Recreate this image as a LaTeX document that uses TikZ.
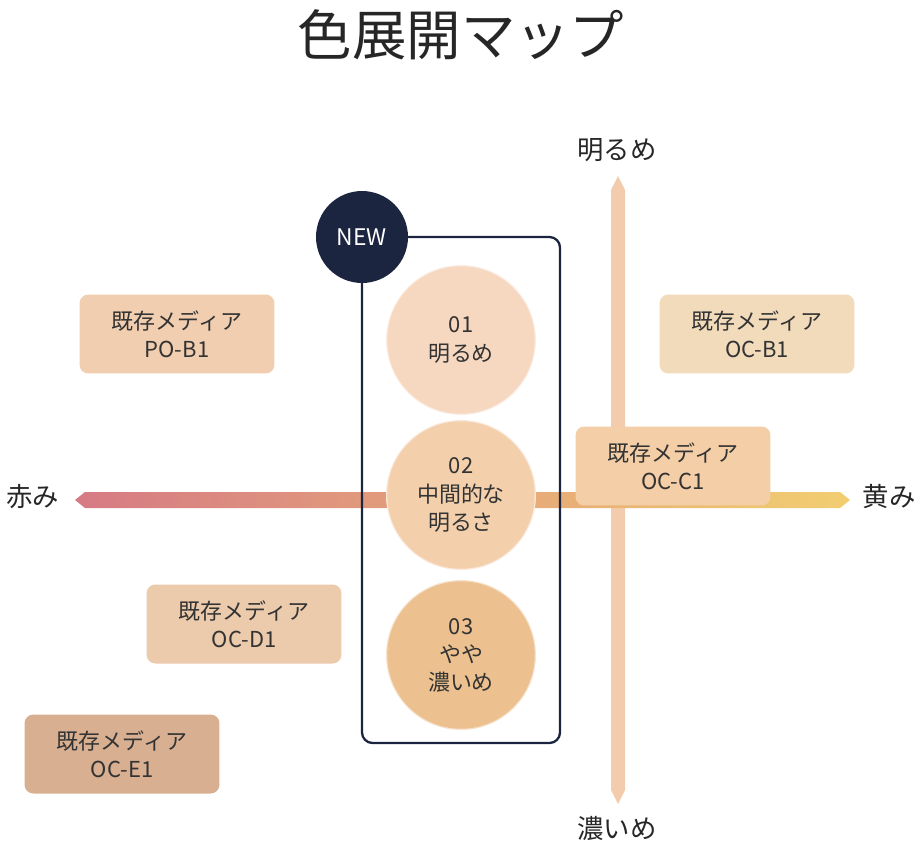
\documentclass[tikz,border=0pt]{standalone}
\usepackage{fontspec}
\setmainfont{Noto Sans CJK JP}
\usetikzlibrary{positioning}
\definecolor{mapnavy}{RGB}{28,37,64}
\definecolor{mapaxis}{RGB}{242,204,172}
\definecolor{mapred}{RGB}{214,122,132}
\definecolor{mappale}{RGB}{246,228,226}
\definecolor{mapyellow}{RGB}{242,206,112}
\definecolor{boxpo}{RGB}{241,206,176}
\definecolor{boxob}{RGB}{242,219,187}
\definecolor{boxoc}{RGB}{243,206,166}
\definecolor{boxod}{RGB}{236,202,172}
\definecolor{boxoe}{RGB}{216,175,145}
\definecolor{dotone}{RGB}{246,216,192}
\definecolor{dottwo}{RGB}{243,207,172}
\definecolor{dotthree}{RGB}{236,192,143}
\tikzset{
  media/.style={rounded corners=5pt, minimum width=3.9cm, minimum height=1.58cm,
    align=center, font=\fontsize{12.5}{16}\selectfont, text=black!80},
  tone/.style={circle, minimum size=2.95cm, align=center,
    font=\fontsize{12.5}{16}\selectfont, text=black!80},
  axislabel/.style={font=\fontsize{15}{18}\selectfont, text=black!85}
}
\begin{document}
\begin{tikzpicture}[x=0.02cm,y=-0.02cm]
\useasboundingbox (0,0) rectangle (923,845);
% Title
\node[font=\fontsize{31}{36}\selectfont, text=black!85] (title) at (461,35) {色展開マップ};

% Axes
\coordinate (vtop) at (618,176);
\coordinate (vbot) at (618,804);
\fill[mapaxis] (611,190) -- (vtop) -- (625,190) -- (625,790) -- (vbot) -- (611,790) -- cycle;
\shade[left color=mapred, middle color=mappale, right color=mapyellow]
  (75,500) -- (85,492) -- (840,492) -- (850,500) -- (840,508) -- (85,508) -- cycle;
\node[axislabel] (bright) at (617,150) {明るめ};
\node[axislabel] (dark) at (617,828) {濃いめ};
\node[axislabel] (red) at (33,497) {赤み};
\node[axislabel] (yellow) at (889,497) {黄み};

% New range
\draw[mapnavy, line width=1.3pt, rounded corners=6pt] (362,237) rectangle (560,743);
\node[circle, fill=mapnavy, minimum size=1.84cm, text=white,
  font=\fontsize{13}{16}\selectfont] (new) at (362,237) {NEW};

\foreach \y/\c/\t in {340/dotone/{01\\明るめ}, 495/dottwo/{02\\中間的な\\明るさ}, 655/dotthree/{03\\やや\\濃いめ}} {
  \fill[\c!45] (461,\y) circle (75);
  \node[tone, fill=\c] at (461,\y) {\t};
}

% Existing media
\node[media, fill=boxpo] (pob1) at (177,334) {既存メディア\\PO-B1};
\node[media, fill=boxob] (ocb1) at (757,334) {既存メディア\\OC-B1};
\node[media, fill=boxoc] (occ1) at (673,466) {既存メディア\\OC-C1};
\node[media, fill=boxod] (ocd1) at (244,624) {既存メディア\\OC-D1};
\node[media, fill=boxoe] (oce1) at (122,754) {既存メディア\\OC-E1};
\end{tikzpicture}
\end{document}
